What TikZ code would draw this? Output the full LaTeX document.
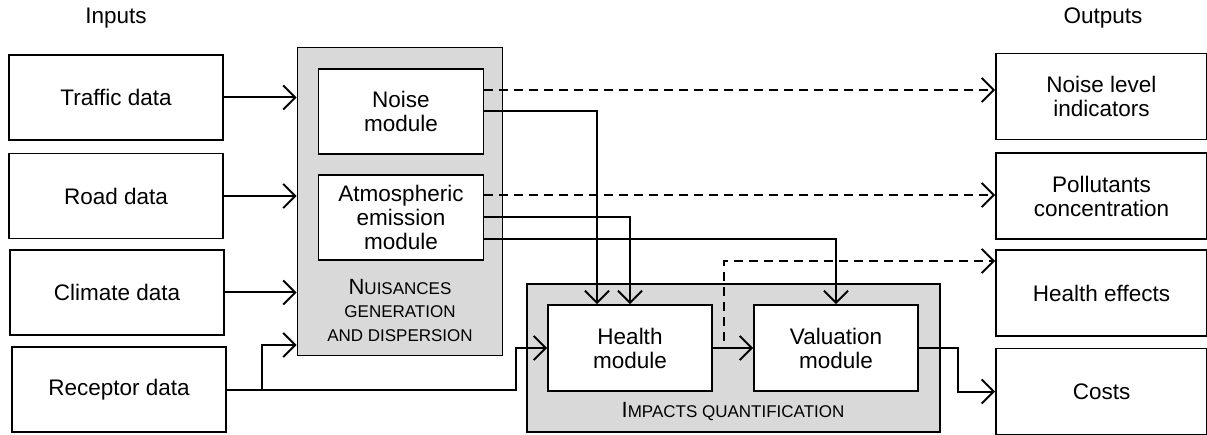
\documentclass[tikz,border=0pt]{standalone}
\usepackage{fontspec}
\setmainfont{Liberation Sans}
\usetikzlibrary{arrows.meta}
\definecolor{grp}{RGB}{217,217,217}
\newcommand{\capsfirst}[1]{{\fontsize{22}{23.5}\selectfont #1}}

\begin{document}
\begin{tikzpicture}[x=1pt,y=-1pt,
  box/.style={draw,fill=white,line width=1.8pt,minimum width=214pt,minimum height=85pt,
    align=center,font=\fontsize{22.5}{24}\selectfont},
  module/.style={box,minimum width=165pt},
  group/.style={draw,fill=grp,line width=1.8pt},
  grouplabel/.style={align=center,font=\fontsize{17}{23.5}\selectfont},
  flow/.style={line width=2pt,-{Straight Barb[length=12pt,width=24pt,line width=2pt]}},
  opt/.style={flow,dash pattern=on 9pt off 6pt}]
  \useasboundingbox (0,0) rectangle (1207,435);

  % headings
  \node[font=\fontsize{22.5}{24}\selectfont] (inputs) at (116,18) {Inputs};
  \node[font=\fontsize{22.5}{24}\selectfont] (outputs) at (1103,18) {Outputs};

  % inputs
  \node[box] (traffic) at (116,97.5) {Traffic data};
  \node[box] (road) at (116,196) {Road data};
  \node[box] (climate) at (117,292.5) {Climate data};
  \node[box] (receptor) at (119,389.5) {Receptor data};

  % nuisances generation and dispersion
  \node[group,minimum width=205pt,minimum height=308pt] (nuis) at (400,201.5) {};
  \node[module] (noise) at (401,111.5) {Noise\\module};
  \node[module] (atmo) at (401,217.5) {Atmospheric\\emission\\module};
  \node[grouplabel] (nuislabel) at (400,310.5) {\capsfirst{N}UISANCES\\GENERATION\\AND DISPERSION};

  % impacts quantification
  \node[group,minimum width=413pt,minimum height=148pt] (impacts) at (733.5,358) {};
  \node[module,minimum width=164pt,minimum height=86pt] (health) at (630,348) {Health\\module};
  \node[module,minimum width=164pt,minimum height=86pt] (valuation) at (836,348) {Valuation\\module};
  \node[grouplabel] (implabel) at (733,412) {\capsfirst{I}MPACTS QUANTIFICATION};

  % outputs
  \node[box,minimum width=211pt,minimum height=86pt] (noiseind) at (1101.5,96.5) {Noise level\\indicators};
  \node[box,minimum width=211pt,minimum height=86pt] (pollut) at (1101.5,196) {Pollutants\\concentration};
  \node[box,minimum width=211pt,minimum height=86pt] (effects) at (1101.5,293) {Health effects};
  \node[box,minimum width=211pt,minimum height=86pt] (costs) at (1101.5,391.5) {Costs};

  % inputs to nuisances
  \draw[flow] (traffic.east) -- (traffic.east -| nuis.west);
  \draw[flow] (road.east) -- (road.east -| nuis.west);
  \draw[flow] (climate.east) -- (climate.east -| nuis.west);
  \coordinate (rsplit) at (262,389.5);
  \coordinate (rturn) at (516,389.5);
  \draw[line width=2pt] (receptor.east) -- (rsplit);
  \draw[flow] (rsplit) |- (nuis.west |- 0,345);
  \draw[flow] (rsplit) -- (rturn) |- (health.west);

  % modules to impacts and outputs
  \draw[opt] ([yshift=21.5pt]noise.east) -- ([yshift=21.5pt]noise.east -| noiseind.west);
  \draw[flow] (noise.east) -| ([xshift=-33pt]health.north);
  \draw[opt] ([yshift=22.5pt]atmo.east) -- ([yshift=22.5pt]atmo.east -| pollut.west);
  \draw[flow] (atmo.east) -| (health.north);
  \draw[flow] ([yshift=-21.5pt]atmo.east) -| (valuation.north);

  % impacts
  \draw[flow] (health.east) -- (valuation.west);
  \coordinate (hsplit) at (724,341);
  \coordinate (hcorner) at (724,261);
  \draw[opt] (hsplit) -- (hcorner) -- (hcorner -| effects.west);
  \draw[flow] (valuation.east) -- ++(39,0) |- (costs.west);
\end{tikzpicture}
\end{document}
